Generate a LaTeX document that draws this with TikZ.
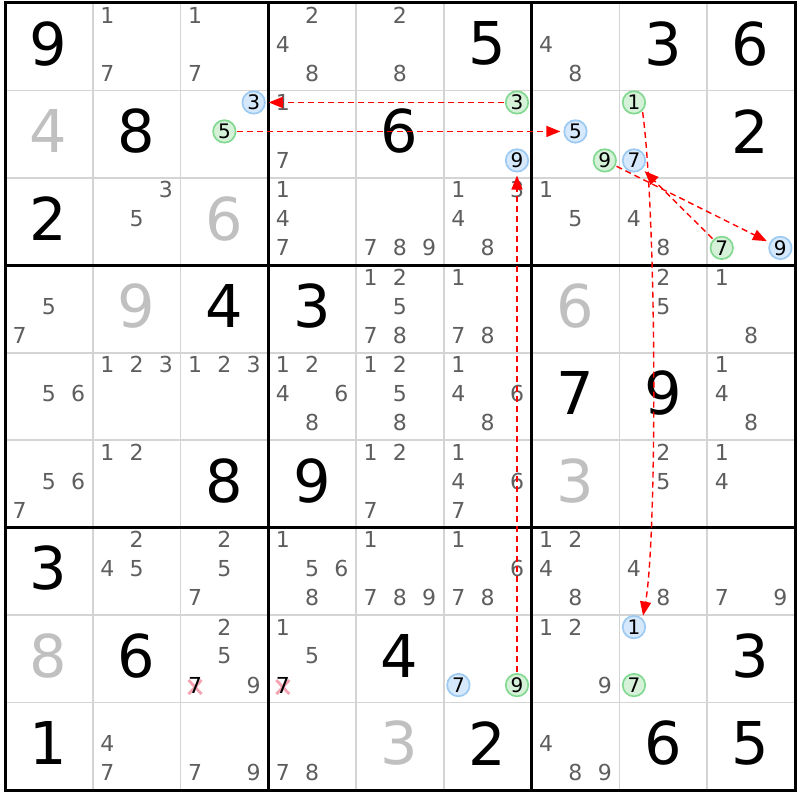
\documentclass[tikz,border=0pt]{standalone}
\usepackage{fontspec}
\setmainfont{DejaVu Sans}
\usetikzlibrary{arrows.meta}
\definecolor{candgray}{HTML}{5E5E5E}
\definecolor{solvgray}{HTML}{C0C0C0}
\definecolor{gridgray}{HTML}{D4D4D4}
\definecolor{bluefill}{HTML}{D6E8FB}
\definecolor{bluebd}{HTML}{9CCAF2}
\definecolor{greenfill}{HTML}{D5F2D9}
\definecolor{greenbd}{HTML}{84D992}
\definecolor{xpink}{HTML}{F4A3B3}
\newcommand\Cand[3]{\foreach \k in {#3}{%
  \pgfmathtruncatemacro\kc{mod(\k-1,3)}%
  \pgfmathtruncatemacro\kr{floor((\k-1)/3)}%
  \node[cand] (c#1#2\k) at ({5+87.78*#2+14.5+29.3*\kc},{3+87.44*#1+12+29*\kr}) {\k};}}
\newcommand\Given[3]{\node[given] (g#1#2) at ({5+87.78*#2+43.5},{3+87.44*#1+40.7}) {#3};}
\newcommand\Solved[3]{\node[solved] (s#1#2) at ({5+87.78*#2+43.5},{3+87.44*#1+40.7}) {#3};}
\newcommand\Circ[5]{%
  \pgfmathtruncatemacro\kc{mod(#5-1,3)}%
  \pgfmathtruncatemacro\kr{floor((#5-1)/3)}%
  \node[#1] (#2) at ({5+87.78*#4+14.5+29.3*\kc},{3+87.44*#3+12+29*\kr}) {#5};}
\begin{document}
\begin{tikzpicture}[x=1pt,y=-1pt,
  cand/.style={font=\fontsize{22}{22}\selectfont, text=candgray, inner sep=0pt, anchor=center},
  given/.style={font=\fontsize{59}{59}\selectfont, text=black, inner sep=0pt, anchor=center},
  solved/.style={given, text=solvgray},
  elim/.style={cand, text=black},
  bcirc/.style={circle, draw=bluebd, fill=bluefill, line width=1.7pt, minimum size=22.5pt, inner sep=0pt, font=\fontsize{20}{20}\selectfont},
  gcirc/.style={circle, draw=greenbd, fill=greenfill, line width=1.7pt, minimum size=22.5pt, inner sep=0pt, font=\fontsize{20}{20}\selectfont},
  thingrid/.style={gridgray, line width=1.6pt},
  thickgrid/.style={black, line width=3pt},
  xmark/.style={xpink, line width=2.8pt},
  link/.style={red, dash pattern=on 6pt off 4pt, line width=1.4pt, -{Triangle[length=14pt,width=11pt]}, shorten >=3pt, shorten <=1pt},
]
\useasboundingbox (0,0) rectangle (800,800);
\fill[white] (0,0) rectangle (800,800);
% grid
\foreach \i in {1,2,4,5,7,8}{
  \draw[thingrid] ({5+87.78*\i},3) -- ({5+87.78*\i},790);
  \draw[thingrid] (5,{3+87.44*\i}) -- (795,{3+87.44*\i});
}
\foreach \i in {3,6}{
  \draw[thickgrid] ({5+87.78*\i},3) -- ({5+87.78*\i},790);
  \draw[thickgrid] (5,{3+87.44*\i}) -- (795,{3+87.44*\i});
}
\draw[thickgrid] (5,3) rectangle (795,790);
% row 0
\Given{0}{0}{9} \Cand{0}{1}{1,7} \Cand{0}{2}{1,7} \Cand{0}{3}{2,4,8} \Cand{0}{4}{2,8}
\Given{0}{5}{5} \Cand{0}{6}{4,8} \Given{0}{7}{3} \Given{0}{8}{6}
% row 1
\Solved{1}{0}{4} \Given{1}{1}{8} \Cand{1}{3}{1,7} \Given{1}{4}{6} \Given{1}{8}{2}
% row 2
\Given{2}{0}{2} \Cand{2}{1}{3,5} \Solved{2}{2}{6} \Cand{2}{3}{1,4,7} \Cand{2}{4}{7,8,9}
\Cand{2}{5}{1,3,4,8} \Cand{2}{6}{1,5} \Cand{2}{7}{4,8}
% row 3
\Cand{3}{0}{5,7} \Solved{3}{1}{9} \Given{3}{2}{4} \Given{3}{3}{3} \Cand{3}{4}{1,2,5,7,8}
\Cand{3}{5}{1,7,8} \Solved{3}{6}{6} \Cand{3}{7}{2,5} \Cand{3}{8}{1,8}
% row 4
\Cand{4}{0}{5,6} \Cand{4}{1}{1,2,3} \Cand{4}{2}{1,2,3} \Cand{4}{3}{1,2,4,6,8} \Cand{4}{4}{1,2,5,8}
\Cand{4}{5}{1,4,6,8} \Given{4}{6}{7} \Given{4}{7}{9} \Cand{4}{8}{1,4,8}
% row 5
\Cand{5}{0}{5,6,7} \Cand{5}{1}{1,2} \Given{5}{2}{8} \Given{5}{3}{9} \Cand{5}{4}{1,2,7}
\Cand{5}{5}{1,4,6,7} \Solved{5}{6}{3} \Cand{5}{7}{2,5} \Cand{5}{8}{1,4}
% row 6
\Given{6}{0}{3} \Cand{6}{1}{2,4,5} \Cand{6}{2}{2,5,7} \Cand{6}{3}{1,5,6,8} \Cand{6}{4}{1,7,8,9}
\Cand{6}{5}{1,6,7,8} \Cand{6}{6}{1,2,4,8} \Cand{6}{7}{4,8} \Cand{6}{8}{7,9}
% row 7
\Solved{7}{0}{8} \Given{7}{1}{6} \Cand{7}{2}{2,5,9} \Cand{7}{3}{1,5} \Given{7}{4}{4}
\Cand{7}{6}{1,2,9} \Given{7}{8}{3}
% eliminated candidates
\coordinate (xa) at ({5+87.78*2+14.5},{3+87.44*7+70});
\coordinate (xb) at ({5+87.78*3+14.5},{3+87.44*7+70});
\foreach \p in {xa,xb}{
  \draw[xmark] ([xshift=-6.5pt,yshift=5pt]\p) -- ([xshift=6.5pt,yshift=-9pt]\p);
  \draw[xmark] ([xshift=6.5pt,yshift=5pt]\p) -- ([xshift=-6.5pt,yshift=-9pt]\p);
}
\node[elim] (e727) at (xa) {7};
\node[elim] (e737) at (xb) {7};
% row 8
\Given{8}{0}{1} \Cand{8}{1}{4,7} \Cand{8}{2}{7,9} \Cand{8}{3}{7,8} \Solved{8}{4}{3}
\Given{8}{5}{2} \Cand{8}{6}{4,8,9} \Given{8}{7}{6} \Given{8}{8}{5}
% circled candidates
\Circ{bcirc}{bl3}{1}{2}{3}
\Circ{gcirc}{gr5}{1}{2}{5}
\Circ{gcirc}{gr3}{1}{5}{3}
\Circ{bcirc}{bl9}{1}{5}{9}
\Circ{bcirc}{bl5}{1}{6}{5}
\Circ{gcirc}{gr9a}{1}{6}{9}
\Circ{gcirc}{gr1}{1}{7}{1}
\Circ{bcirc}{bl7}{1}{7}{7}
\Circ{gcirc}{gr7}{2}{8}{7}
\Circ{bcirc}{bl9b}{2}{8}{9}
\Circ{bcirc}{bl7b}{7}{5}{7}
\Circ{gcirc}{gr9}{7}{5}{9}
\Circ{bcirc}{bl1}{7}{7}{1}
\Circ{gcirc}{gr7b}{7}{7}{7}
% links
\draw[link] (gr3) -- (bl3);
\draw[link] (gr5) -- (bl5);
\draw[link] (gr9) -- (bl9);
\draw[link] (gr1.-45) .. controls (657,220) and (657,540) .. (bl1.45);
\draw[link] (gr9a) -- (bl9b);
\draw[link] (gr7) -- (bl7);
\end{tikzpicture}
\end{document}
